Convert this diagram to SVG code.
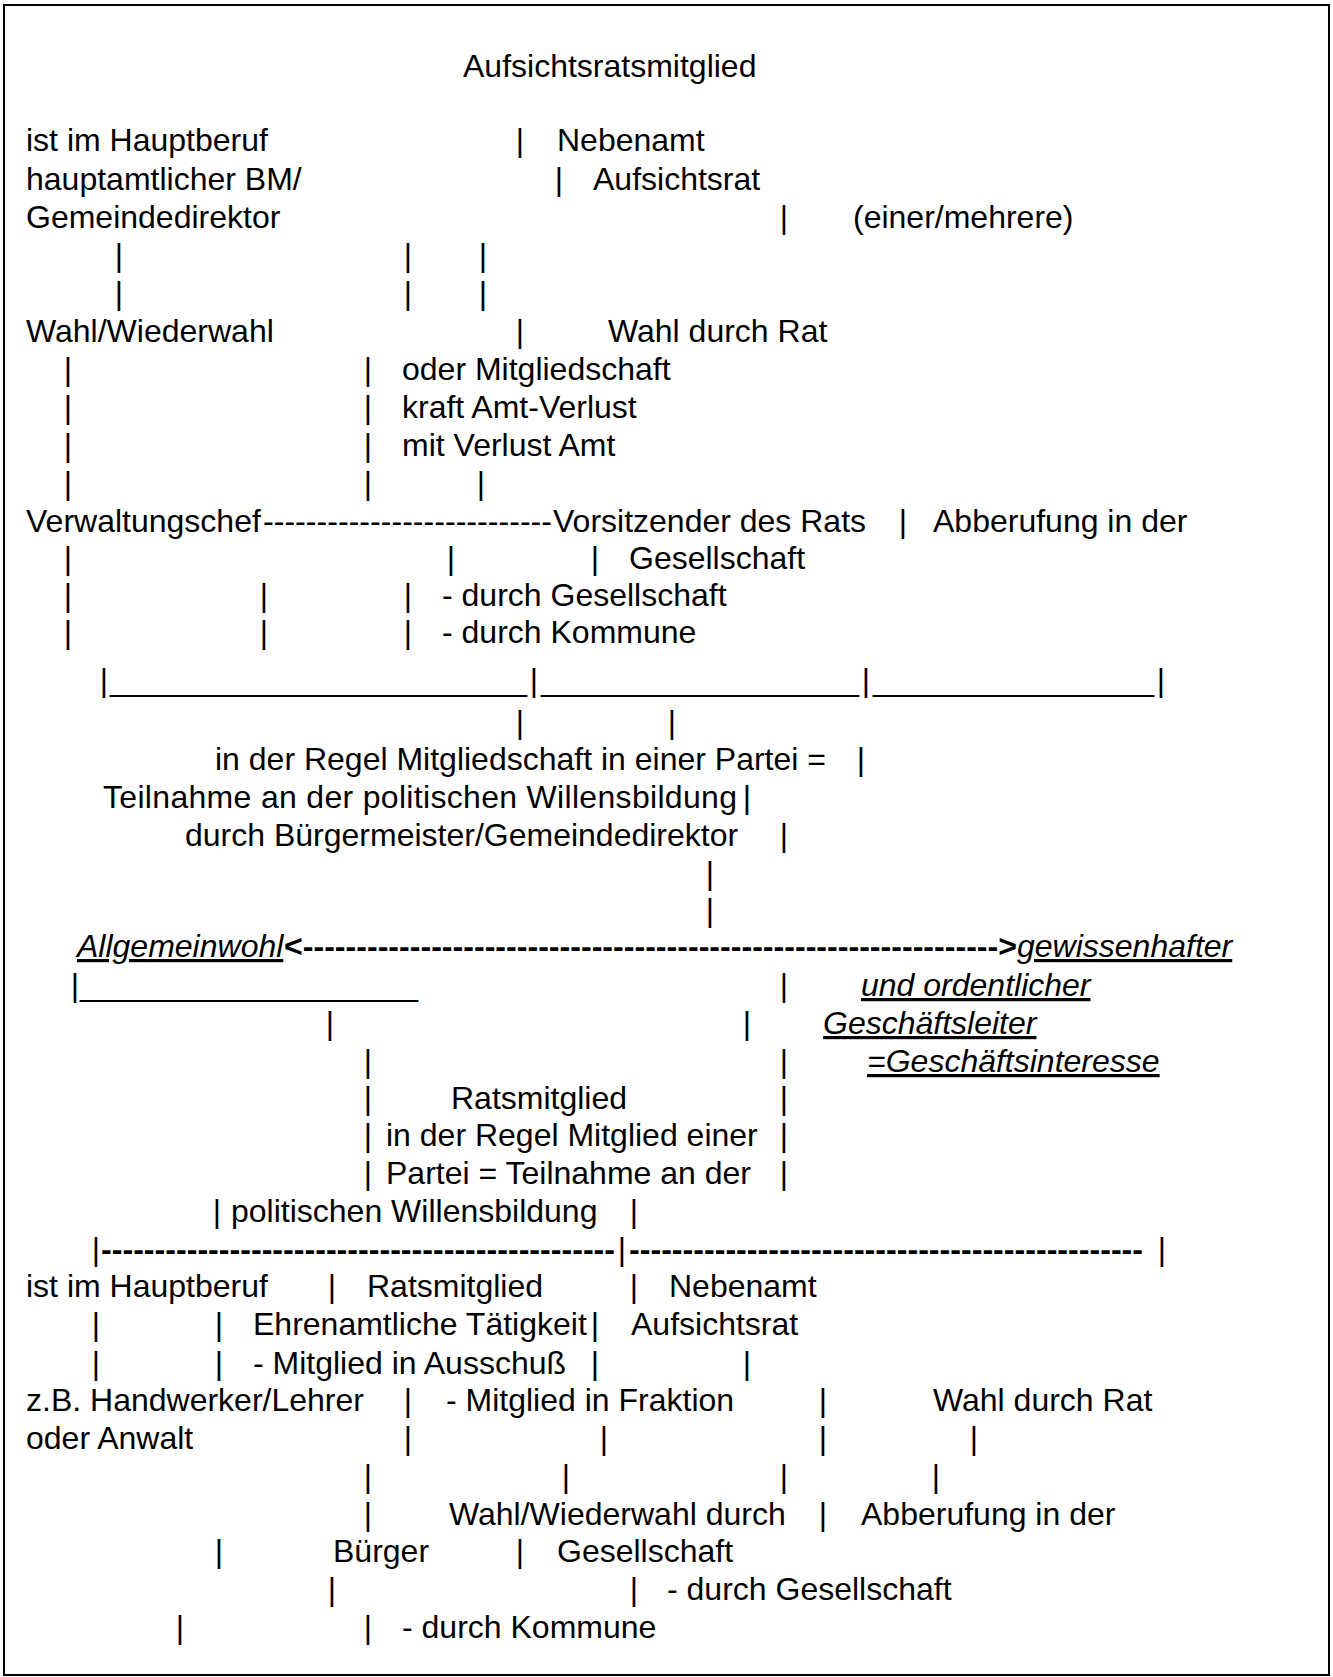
<svg xmlns="http://www.w3.org/2000/svg" width="1333" height="1677" viewBox="0 0 1333 1677">
<style>
text{font-family:"Liberation Sans",Arial,sans-serif;font-size:32px;fill:#000}
.p{text-anchor:middle}
.u{font-style:italic;text-decoration:underline}
.b{font-weight:bold}
</style>
<rect width="1333" height="1677" fill="#fff"/>
<rect x="4" y="5" width="1325" height="1670" fill="none" stroke="#000" stroke-width="2"/>
<g id="title"><text x="463" y="77">Aufsichtsratsmitglied</text></g>
<g id="bm-hauptberuf">
<text x="26" y="151">ist im Hauptberuf</text>
<text x="26" y="190">hauptamtlicher BM/</text>
<text x="26" y="228">Gemeindedirektor</text>
</g>
<g id="nebenamt-1">
<text x="557" y="151">Nebenamt</text>
<text x="593" y="190">Aufsichtsrat</text>
<text x="853" y="228">(einer/mehrere)</text>
</g>
<g id="wahl-1">
<text x="26" y="342">Wahl/Wiederwahl</text>
<text x="608" y="342">Wahl durch Rat</text>
<text x="402" y="380">oder Mitgliedschaft</text>
<text x="402" y="418">kraft Amt-Verlust</text>
<text x="402" y="456">mit Verlust Amt</text>
</g>
<g id="verwaltungschef">
<text x="26" y="532">Verwaltungschef</text>
<text x="553" y="532">Vorsitzender des Rats</text>
</g>
<g id="abberufung-1">
<text x="933" y="532">Abberufung in der</text>
<text x="629" y="569">Gesellschaft</text>
<text x="442" y="606">- durch Gesellschaft</text>
<text x="442" y="643">- durch Kommune</text>
</g>
<g id="partei-1">
<text x="215" y="770">in der Regel Mitgliedschaft in einer Partei =</text>
<text x="103" y="808" textLength="634">Teilnahme an der politischen Willensbildung</text>
<text x="185" y="846">durch Bürgermeister/Gemeindedirektor</text>
</g>
<g id="allgemeinwohl"><text class="u" x="77" y="957">Allgemeinwohl</text></g>
<g id="geschaeftsleiter">
<text class="u" x="1017" y="957">gewissenhafter</text>
<text class="u" x="861" y="996">und ordentlicher</text>
<text class="u" x="823" y="1034">Geschäftsleiter</text>
<text class="u" x="867" y="1072">=Geschäftsinteresse</text>
</g>
<g id="ratsmitglied">
<text x="451" y="1109">Ratsmitglied</text>
<text x="386" y="1146">in der Regel Mitglied einer</text>
<text x="386" y="1184">Partei = Teilnahme an der</text>
<text x="231" y="1222">politischen Willensbildung</text>
</g>
<g id="hauptberuf-2">
<text x="26" y="1297">ist im Hauptberuf</text>
<text x="26" y="1411">z.B. Handwerker/Lehrer</text>
<text x="26" y="1449">oder Anwalt</text>
</g>
<g id="ratsmitglied-2">
<text x="367" y="1297">Ratsmitglied</text>
<text x="253" y="1335">Ehrenamtliche Tätigkeit</text>
<text x="253" y="1374">- Mitglied in Ausschuß</text>
<text x="446" y="1411">- Mitglied in Fraktion</text>
</g>
<g id="nebenamt-2">
<text x="669" y="1297">Nebenamt</text>
<text x="631" y="1335">Aufsichtsrat</text>
<text x="933" y="1411">Wahl durch Rat</text>
</g>
<g id="wahl-2">
<text x="449" y="1525">Wahl/Wiederwahl durch</text>
<text x="333" y="1562">Bürger</text>
</g>
<g id="abberufung-2">
<text x="861" y="1525">Abberufung in der</text>
<text x="557" y="1562">Gesellschaft</text>
<text x="667" y="1600">- durch Gesellschaft</text>
<text x="402" y="1638">- durch Kommune</text>
</g>
<g id="connectors">
<text class="p" x="520" y="151">|</text>
<text class="p" x="559" y="190">|</text>
<text class="p" x="784" y="228">|</text>
<text class="p" x="119" y="266">|</text><text class="p" x="408" y="266">|</text><text class="p" x="483" y="266">|</text>
<text class="p" x="119" y="304">|</text><text class="p" x="408" y="304">|</text><text class="p" x="483" y="304">|</text>
<text class="p" x="520" y="342">|</text>
<text class="p" x="68" y="380">|</text><text class="p" x="368" y="380">|</text>
<text class="p" x="68" y="418">|</text><text class="p" x="368" y="418">|</text>
<text class="p" x="68" y="456">|</text><text class="p" x="368" y="456">|</text>
<text class="p" x="68" y="494">|</text><text class="p" x="368" y="494">|</text><text class="p" x="481" y="494">|</text>
<text x="263" y="532" textLength="289" lengthAdjust="spacingAndGlyphs">---------------------------</text>
<text class="p" x="903" y="532">|</text>
<text class="p" x="68" y="569">|</text><text class="p" x="451" y="569">|</text><text class="p" x="595" y="569">|</text>
<text class="p" x="68" y="606">|</text><text class="p" x="264" y="606">|</text><text class="p" x="408" y="606">|</text>
<text class="p" x="68" y="643">|</text><text class="p" x="264" y="643">|</text><text class="p" x="408" y="643">|</text>
<text class="p" x="104" y="691">|</text><text class="p" x="534" y="691">|</text><text class="p" x="866" y="691">|</text><text class="p" x="1161" y="691">|</text>
<text x="110" y="691" textLength="417" lengthAdjust="spacingAndGlyphs">_______________________</text>
<text x="541" y="691" textLength="318" lengthAdjust="spacingAndGlyphs">_________________</text>
<text x="873" y="691" textLength="281" lengthAdjust="spacingAndGlyphs">_______________</text>
<text class="p" x="520" y="733">|</text><text class="p" x="672" y="733">|</text>
<text class="p" x="861" y="770">|</text>
<text class="p" x="747" y="808">|</text>
<text class="p" x="784" y="846">|</text>
<text class="p" x="710" y="884">|</text>
<text class="p" x="710" y="921">|</text>
<text class="b" x="284" y="957" textLength="733" lengthAdjust="spacingAndGlyphs">&lt;-----------------------------------------------------------------&gt;</text>
<text class="p" x="75" y="996">|</text>
<text x="80" y="996" textLength="338" lengthAdjust="spacingAndGlyphs">___________________</text>
<text class="p" x="784" y="996">|</text>
<text class="p" x="330" y="1034">|</text><text class="p" x="747" y="1034">|</text>
<text class="p" x="368" y="1072">|</text><text class="p" x="784" y="1072">|</text>
<text class="p" x="368" y="1109">|</text><text class="p" x="784" y="1109">|</text>
<text class="p" x="368" y="1146">|</text><text class="p" x="784" y="1146">|</text>
<text class="p" x="368" y="1184">|</text><text class="p" x="784" y="1184">|</text>
<text class="p" x="217" y="1222">|</text><text class="p" x="634" y="1222">|</text>
<text class="p" x="96" y="1260">|</text><text class="p" x="622" y="1260">|</text><text class="p" x="1162" y="1260">|</text>
<text class="b" x="101" y="1260" textLength="514" lengthAdjust="spacingAndGlyphs">------------------------------------------------</text>
<text class="b" x="629" y="1260" textLength="514" lengthAdjust="spacingAndGlyphs">------------------------------------------------</text>
<text class="p" x="332" y="1297">|</text><text class="p" x="634" y="1297">|</text>
<text class="p" x="96" y="1335">|</text><text class="p" x="219" y="1335">|</text><text class="p" x="595" y="1335">|</text>
<text class="p" x="96" y="1374">|</text><text class="p" x="219" y="1374">|</text><text class="p" x="595" y="1374">|</text><text class="p" x="747" y="1374">|</text>
<text class="p" x="408" y="1411">|</text><text class="p" x="823" y="1411">|</text>
<text class="p" x="408" y="1449">|</text><text class="p" x="604" y="1449">|</text><text class="p" x="823" y="1449">|</text><text class="p" x="974" y="1449">|</text>
<text class="p" x="368" y="1487">|</text><text class="p" x="566" y="1487">|</text><text class="p" x="784" y="1487">|</text><text class="p" x="936" y="1487">|</text>
<text class="p" x="368" y="1525">|</text><text class="p" x="823" y="1525">|</text>
<text class="p" x="219" y="1562">|</text><text class="p" x="520" y="1562">|</text>
<text class="p" x="332" y="1600">|</text><text class="p" x="634" y="1600">|</text>
<text class="p" x="180" y="1638">|</text><text class="p" x="368" y="1638">|</text>
</g>
</svg>
